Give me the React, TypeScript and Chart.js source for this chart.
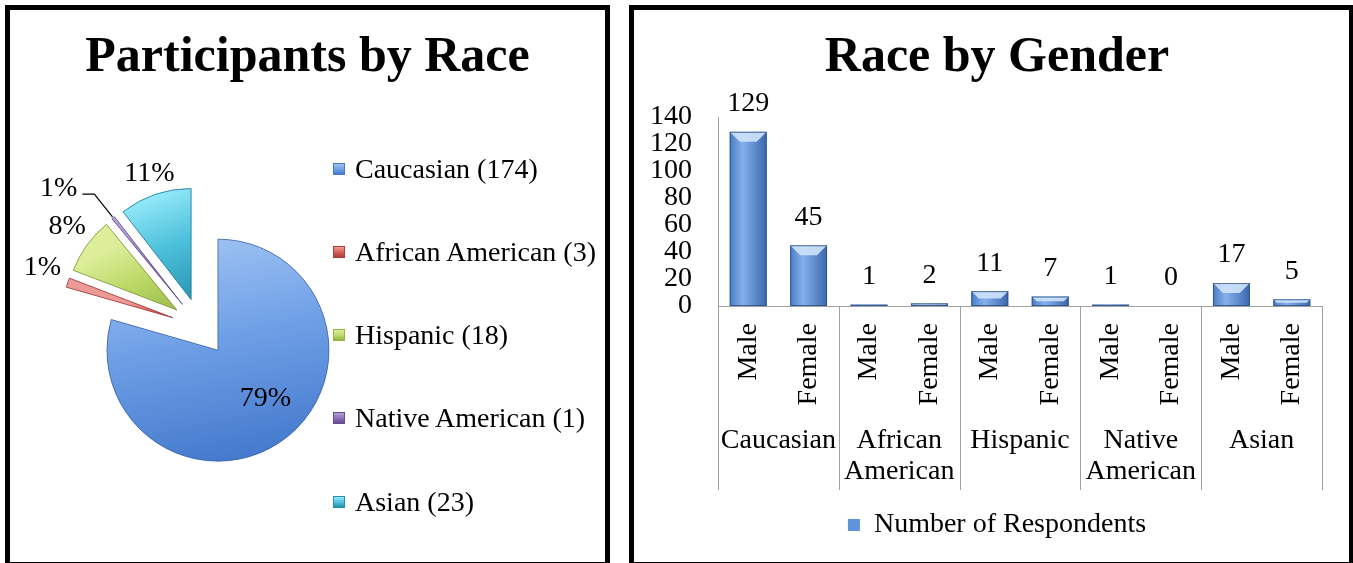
import React, { useEffect, useRef } from "react";
import { Chart, registerables } from "chart.js";

Chart.register(...registerables);

// ---------- data ----------
const raceLabels = ["Caucasian", "African American", "Hispanic", "Native American", "Asian"];
const raceCounts = [174, 3, 18, 1, 23];
const racePercentLabels = ["79%", "1%", "8%", "1%", "11%"];

const genderLabels = ["Male", "Female", "Male", "Female", "Male", "Female", "Male", "Female", "Male", "Female"];
const groupLabels = [["Caucasian"], ["African", "American"], ["Hispanic"], ["Native", "American"], ["Asian"]];
const respondents = [129, 45, 1, 2, 11, 7, 1, 0, 17, 5];
const seriesLabel = "Number of Respondents";
const yMin = 0;
const yMax = 140;
const yStep = 20;

const pieTitle = "Participants by Race";
const barTitle = "Race by Gender";

// ---------- styles ----------
const FONT = "'Liberation Serif', 'Times New Roman', serif";
const sliceColors = ["#6e9fe6", "#d65a55", "#bcd866", "#8a70b8", "#4cc0da"];
const sliceLight = ["#9dc2f3", "#ec9a96", "#dcee9a", "#b4a0d8", "#93e9f8"];
const sliceDark = ["#4479cc", "#b03e3a", "#94b545", "#664c92", "#2490ae"];
const sliceEdge = ["rgba(50,90,160,0.7)", "rgba(150,50,50,0.7)", "rgba(110,140,50,0.7)", "rgba(90,70,130,0.7)", "rgba(30,120,150,0.8)"];
const AXIS_GRAY = "#a0a0a0";
const PIE_RADIUS = 111;
const EXPLODE = 29;
const PIE_SHIFT_X = -107;
const LEADER_SLICE = 3;

const pieExplode = {
  id: "pieExplode",
  afterDatasetsUpdate(chart: any) {
    const arcs = chart.getDatasetMeta(0).data;
    arcs.forEach((arc: any) => {
      const mid = (arc.startAngle + arc.endAngle) / 2;
      arc.x += PIE_SHIFT_X + Math.cos(mid) * EXPLODE;
      arc.y += Math.sin(mid) * EXPLODE;
    });
  },
};

const pieStyle = {
  id: "pieStyle",
  afterDatasetsDraw(chart: any) {
    const ctx = chart.ctx as CanvasRenderingContext2D;
    const arcs = chart.getDatasetMeta(0).data;
    arcs.forEach((arc: any, i: number) => {
      const { x, y, startAngle, endAngle, outerRadius: r } = arc;
      let ymin = y, ymax = y;
      for (let k = 0; k <= 40; k++) {
        const a = startAngle + ((endAngle - startAngle) * k) / 40;
        const py = y + Math.sin(a) * r;
        ymin = Math.min(ymin, py);
        ymax = Math.max(ymax, py);
      }
      ctx.save();
      ctx.beginPath();
      ctx.moveTo(x, y);
      ctx.arc(x, y, r, startAngle, endAngle);
      ctx.closePath();
      const g = ctx.createLinearGradient(x - r * 0.2, ymin, x + r * 0.2, ymax);
      g.addColorStop(0, sliceLight[i]);
      g.addColorStop(0.45, sliceColors[i]);
      g.addColorStop(1, sliceDark[i]);
      ctx.fillStyle = g;
      ctx.fill();
      ctx.lineWidth = 1;
      ctx.strokeStyle = sliceEdge[i];
      ctx.stroke();
      ctx.restore();
    });

    const total = raceCounts.reduce((a, b) => a + b, 0);
    ctx.save();
    ctx.font = `28px ${FONT}`;
    ctx.fillStyle = "#000";
    ctx.textBaseline = "middle";
    arcs.forEach((arc: any, i: number) => {
      const mid = (arc.startAngle + arc.endAngle) / 2;
      const dx = Math.cos(mid), dy = Math.sin(mid);
      const r = arc.outerRadius;
      const text = racePercentLabels[i];
      if (raceCounts[i] / total > 0.5) {
        ctx.textAlign = "center";
        ctx.fillText(text, arc.x + dx * r * 0.71, arc.y + dy * r * 0.545);
      } else if (i === LEADER_SLICE) {
        const x1 = arc.x + dx * (r + 1), y1 = arc.y + dy * (r + 1);
        const x2 = arc.x + dx * (r + 30), y2 = arc.y + dy * (r + 30);
        const s = dx < 0 ? -1 : 1;
        const x3 = x2 + s * 12;
        ctx.beginPath();
        ctx.moveTo(x1, y1);
        ctx.lineTo(x2, y2);
        ctx.lineTo(x3, y2);
        ctx.strokeStyle = "#000";
        ctx.lineWidth = 1.2;
        ctx.stroke();
        ctx.textAlign = s < 0 ? "right" : "left";
        ctx.fillText(text, x3 + s * 5, y2 - 6);
      } else {
        ctx.textAlign = "center";
        const w = ctx.measureText(text).width;
        const h = 18;
        const px = arc.x + dx * (r + 10), py = arc.y + dy * (r + 10);
        ctx.fillText(text, px + (dx * w) / 2 + 6 * Math.abs(dy), py + (dy * h) / 2 - 9 * Math.abs(dx));
      }
    });
    ctx.restore();
  },
};

const barStyle = {
  id: "barStyle",
  afterDatasetsDraw(chart: any) {
    const ctx = chart.ctx as CanvasRenderingContext2D;
    const meta = chart.getDatasetMeta(0);
    meta.data.forEach((bar: any, i: number) => {
      const { x, y, base, width } = bar.getProps(["x", "y", "base", "width"], true);
      const left = x - width / 2;
      const h = base - y;
      ctx.save();
      if (h > 0.5) {
        const g = ctx.createLinearGradient(left, 0, left + width, 0);
        g.addColorStop(0, "#4a7cc6");
        g.addColorStop(0.35, "#86b0ec");
        g.addColorStop(1, "#3a67ae");
        ctx.fillStyle = g;
        ctx.fillRect(left, y, width, h);
        const b = Math.min(10, h / 2);
        ctx.beginPath();
        ctx.moveTo(left, y);
        ctx.lineTo(left + width, y);
        ctx.lineTo(left + width - b, y + b);
        ctx.lineTo(left + b, y + b);
        ctx.closePath();
        ctx.fillStyle = "rgba(206,227,251,0.9)";
        ctx.fill();
        ctx.strokeStyle = "rgba(40,75,130,0.75)";
        ctx.lineWidth = 1;
        ctx.strokeRect(left + 0.5, y + 0.5, width - 1, Math.max(h - 1, 0));
      }
      ctx.fillStyle = "#000";
      ctx.font = `28px ${FONT}`;
      ctx.textAlign = "center";
      ctx.textBaseline = "middle";
      ctx.fillText(String(respondents[i]), x, y - 28);
      ctx.restore();
    });
  },
};

const groupSeparators = {
  id: "groupSeparators",
  afterLayout(chart: any) {
    // let the y tick labels use the space left of the axis box
    const y = chart.scales.y;
    if (y) y.left = 0;
  },
  afterDraw(chart: any) {
    const ctx = chart.ctx as CanvasRenderingContext2D;
    const x2 = chart.scales.x2;
    const n = groupLabels.length;
    const gw = x2.getPixelForTick(1) - x2.getPixelForTick(0);
    ctx.save();
    ctx.strokeStyle = AXIS_GRAY;
    ctx.lineWidth = 1;
    for (let k = 0; k <= n; k++) {
      const px = Math.round((k < n ? x2.getPixelForTick(k) - gw / 2 : x2.getPixelForTick(n - 1) + gw / 2)) + 0.5;
      ctx.beginPath();
      ctx.moveTo(px, chart.chartArea.bottom);
      ctx.lineTo(px, x2.bottom - 11);
      ctx.stroke();
    }
    ctx.restore();
  },
};

export default function App() {
  const pieRef = useRef<HTMLCanvasElement | null>(null);
  const barRef = useRef<HTMLCanvasElement | null>(null);

  useEffect(() => {
    const pie = new Chart(pieRef.current as HTMLCanvasElement, {
      type: "pie",
      data: {
        labels: raceLabels,
        datasets: [
          {
            data: raceCounts,
            backgroundColor: sliceColors,
            borderWidth: 0,
            radius: PIE_RADIUS,
          } as any,
        ],
      },
      options: {
        responsive: false,
        animation: false,
        events: [],
        layout: { padding: { top: 0, bottom: 7, left: 0, right: 0 } },
        plugins: {
          legend: { display: false },
          tooltip: { enabled: false },
          title: {
            display: true,
            text: pieTitle,
            color: "#000",
            font: { family: FONT, size: 50, weight: "bold", lineHeight: 1.2 },
            padding: { top: 18, bottom: 10 },
          },
        },
      } as any,
      plugins: [pieExplode, pieStyle],
    });

    const tickFont = { family: FONT, size: 28, lineHeight: 1.0 };
    const bar = new Chart(barRef.current as HTMLCanvasElement, {
      type: "bar",
      data: {
        labels: genderLabels,
        datasets: [
          {
            label: seriesLabel,
            data: respondents,
            backgroundColor: "#5f93dc",
            borderColor: "#3d6aae",
            borderWidth: 0,
            barPercentage: 0.61,
            categoryPercentage: 1,
          },
        ],
      },
      options: {
        responsive: false,
        animation: false,
        events: [],
        layout: { padding: { left: 38, right: 27, top: 0, bottom: 14 } },
        scales: {
          x: {
            type: "category",
            position: "bottom",
            offset: true,
            grid: { display: false, drawTicks: false },
            border: { display: true, color: AXIS_GRAY, width: 1 },
            ticks: {
              color: "#000",
              font: tickFont,
              minRotation: 90,
              maxRotation: 90,
              autoSkip: false,
              padding: 17,
            },
            afterFit: (s: any) => {
              s.height = 99;
            },
          },
          x2: {
            type: "category",
            labels: groupLabels as any,
            position: "bottom",
            offset: true,
            weight: 1,
            grid: { display: false, drawTicks: false },
            border: { display: false },
            ticks: {
              color: "#000",
              font: { family: FONT, size: 28, lineHeight: 1.1 },
              minRotation: 0,
              maxRotation: 0,
              autoSkip: false,
              padding: 20.6,
            },
            afterFit: (s: any) => {
              s.height = 96;
            },
          },
          y: {
            min: yMin,
            max: yMax,
            grid: { display: false, drawTicks: false },
            border: { display: true, color: AXIS_GRAY, width: 1 },
            ticks: {
              stepSize: yStep,
              autoSkip: false,
              color: "#000",
              font: tickFont,
              padding: 26,
            },
            afterFit: (s: any) => {
              s.width = 46;
            },
          },
        },
        plugins: {
          legend: {
            position: "bottom",
            labels: {
              color: "#000",
              font: { family: FONT, size: 28 },
              boxWidth: 12,
              boxHeight: 12,
              padding: 10,
            },
          },
          tooltip: { enabled: false },
          title: {
            display: true,
            text: barTitle,
            color: "#000",
            font: { family: FONT, size: 50, weight: "bold", lineHeight: 1.2 },
            padding: { top: 18, bottom: 29 },
          },
        },
      } as any,
      plugins: [barStyle, groupSeparators],
    });

    return () => {
      pie.destroy();
      bar.destroy();
    };
  }, []);

  return (
    <div
      style={{
        position: "fixed",
        left: 0,
        top: 0,
        width: 1353,
        height: 563,
        background: "#fff",
        overflow: "hidden",
        fontFamily: FONT,
      }}
    >
      <div
        style={{
          position: "absolute",
          left: 5,
          top: 5,
          width: 605,
          height: 562,
          border: "5px solid #000",
          boxSizing: "border-box",
        }}
      />
      <div
        style={{
          position: "absolute",
          left: 629,
          top: 5,
          width: 725,
          height: 562,
          border: "5px solid #000",
          boxSizing: "border-box",
        }}
      />
      <canvas ref={pieRef} width={595} height={553} style={{ position: "absolute", left: 10, top: 10 }} />
      <canvas ref={barRef} width={715} height={553} style={{ position: "absolute", left: 634, top: 10 }} />
      {raceLabels.map((label, i) => (
        <div
          key={label}
          style={{
            position: "absolute",
            left: 333,
            top: 168.5 + i * 83.25 - 16,
            height: 32,
            display: "flex",
            alignItems: "center",
            whiteSpace: "nowrap",
          }}
        >
          <span
            style={{
              display: "inline-block",
              width: 12,
              height: 12,
              boxSizing: "border-box",
              border: `1px solid ${sliceDark[i]}`,
              background: `linear-gradient(180deg, ${sliceLight[i]} 0%, ${sliceColors[i]} 55%, ${sliceDark[i]} 100%)`,
              marginRight: 10,
            }}
          />
          <span style={{ fontSize: 28, lineHeight: "32px", color: "#000" }}>
            {`${label} (${raceCounts[i]})`}
          </span>
        </div>
      ))}
    </div>
  );
}
